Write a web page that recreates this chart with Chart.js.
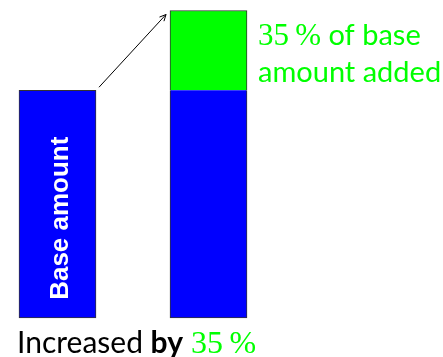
<!DOCTYPE html>
<html>
<head>
<meta charset="utf-8">
<script src="https://cdn.jsdelivr.net/npm/chart.js@4/dist/chart.umd.min.js"></script>
<style>
  html, body { margin: 0; padding: 0; background: #fff; }
  #wrap { width: 443px; height: 357px; }
</style>
</head>
<body>
<div id="wrap"><canvas id="chart" width="443" height="357"></canvas></div>
<script>
const categories = ['Base amount', 'Increased by 35 %'];
const baseValues = [100, 100];
const addedValues = [null, 35];
const percentAdded = 35;

const BLUE = '#0000ff';
const GREEN = '#00ff00';
const EDGE = '#333333';

const serif = '"Liberation Serif", serif';
const sans = 'Lato, "Noto Sans", sans-serif';

// draws a run of [text, font, color] pieces from x on one baseline
function drawRun(ctx, x, y, parts) {
  parts.forEach(([text, font, color]) => {
    ctx.font = font;
    ctx.fillStyle = color;
    ctx.fillText(text, x, y);
    x += ctx.measureText(text).width;
  });
}

const notes = {
  id: 'notes',
  afterDatasetsDraw(chart) {
    const { ctx, scales: { x, y } } = chart;
    const half = 77 / 2;
    const xBase = x.getPixelForValue(0);
    const xIncr = x.getPixelForValue(1);
    const yBaseTop = y.getPixelForValue(baseValues[0]);
    const yTop = y.getPixelForValue(baseValues[1] + addedValues[1]);

    ctx.save();
    ctx.textAlign = 'left';
    ctx.textBaseline = 'alphabetic';

    // label inside the base bar, reading upwards
    ctx.save();
    ctx.translate(xBase + 10, yBaseTop + 128);
    ctx.rotate(-Math.PI / 2);
    ctx.textAlign = 'center';
    ctx.font = 'bold 26px "Liberation Sans", Arial, sans-serif';
    ctx.fillStyle = '#fff';
    ctx.fillText(categories[0], 0, 0);
    ctx.restore();

    // arrow from base bar to the increased bar
    const x0 = xBase + half + 3, y0 = yBaseTop - 3;
    const x1 = xIncr - half - 4, y1 = yTop + 4;
    const ang = Math.atan2(y1 - y0, x1 - x0);
    ctx.strokeStyle = '#000';
    ctx.lineWidth = 1;
    ctx.beginPath();
    ctx.moveTo(x0, y0);
    ctx.lineTo(x1, y1);
    ctx.moveTo(x1 - 7 * Math.cos(ang - 0.45), y1 - 7 * Math.sin(ang - 0.45));
    ctx.lineTo(x1, y1);
    ctx.lineTo(x1 - 7 * Math.cos(ang + 0.45), y1 - 7 * Math.sin(ang + 0.45));
    ctx.stroke();

    // note next to the added part
    const tx = xIncr + half + 11;
    drawRun(ctx, tx, yTop + 34, [
      [percentAdded + '\u2009%', '31px ' + serif, GREEN],
      [' of base', '29px ' + sans, GREEN],
    ]);
    drawRun(ctx, tx, yTop + 71, [['amount added', '29px ' + sans, GREEN]]);

    // caption below the bars
    drawRun(ctx, 17, 353, [
      ['Increased ', '30px ' + sans, '#000'],
      ['by', 'bold 30px ' + sans, '#000'],
      [' ' + percentAdded + '\u2009%', '32px ' + serif, GREEN],
    ]);
    ctx.restore();
  }
};

new Chart(document.getElementById('chart'), {
  type: 'bar',
  data: {
    labels: categories,
    datasets: [
      {
        label: 'Base amount',
        data: baseValues,
        backgroundColor: BLUE,
        borderColor: EDGE,
        borderWidth: 1,
        borderSkipped: (c) => (c.dataIndex === 1 ? 'top' : false),
        barThickness: 77,
        clip: false,
      },
      {
        label: 'Added',
        data: addedValues,
        backgroundColor: GREEN,
        borderColor: EDGE,
        borderWidth: 1,
        borderSkipped: 'bottom',
        barThickness: 77,
        clip: false,
      },
    ],
  },
  options: {
    responsive: false,
    animation: false,
    events: [],
    layout: { padding: { left: 57.5, right: 234.5, top: 10.5, bottom: 39 } },
    plugins: { legend: { display: false }, tooltip: { enabled: false } },
    scales: {
      x: { stacked: true, offset: false, display: false },
      y: { stacked: true, min: 0, max: 135, display: false },
    },
  },
  plugins: [notes],
});
</script>
</body>
</html>
